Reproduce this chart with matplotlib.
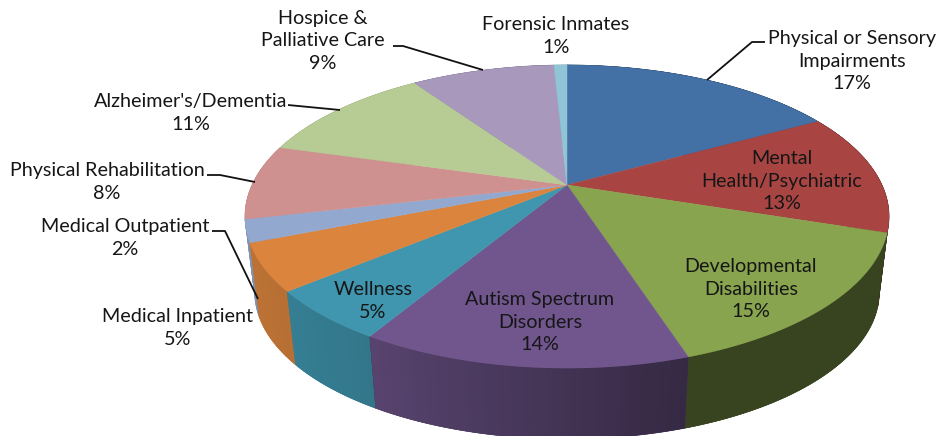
import numpy as np
import matplotlib
matplotlib.use("Agg")
import matplotlib.pyplot as plt
from matplotlib.colors import to_rgb

categories = ["Physical or Sensory\nImpairments", "Mental\nHealth/Psychiatric", "Developmental\nDisabilities",
              "Autism Spectrum\nDisorders", "Wellness", "Medical Inpatient", "Medical Outpatient",
              "Physical Rehabilitation", "Alzheimer's/Dementia", "Hospice &\nPalliative Care", "Forensic Inmates"]
shown_percent = [17, 13, 15, 14, 5, 5, 2, 8, 11, 9, 1]
slice_values = [17.0, 13.0, 15.0, 13.6, 5.4, 5.0, 2.4, 8.0, 11.0, 8.8, 0.8]
colors = ["#4471A5", "#A84543", "#88A44E", "#70568D", "#4096AF", "#DA843D",
          "#92A8CF", "#CF9190", "#B7CB94", "#A898BC", "#90C5D8"]

label_xy = [(852, 61), (782, 181), (751, 289), (540, 322), (373, 301), (178, 328),
            (125, 238), (107, 182), (191, 113), (323, 41), (556, 36)]
leaders = {
    0: [(765, 42), (752, 42), (707, 80)],
    6: [(212, 231), (225, 231), (258, 299)],
    7: [(207, 175), (220, 175), (255, 182)],
    8: [(288, 105), (340, 110)],
    9: [(393, 46), (403, 46), (483, 70)],
}

CX, CY, A, B, K = 567.0, 185.0, 145.0, 315.0, 0.208
SHIFT, SCALE = 76.5, 0.97


def top(theta):
    X, Y = np.sin(theta), np.cos(theta)
    w = 1 + K * Y
    return CX + B * X / w, CY - A * Y / w


def bottom(theta):
    x, y = top(theta)
    return CX + SCALE * (x - CX), CY + SCALE * (y - CY) + SHIFT


def shade(theta):
    return np.interp(np.sin(theta), [-1, -0.55, 0.305, 0.312, 1], [0.88, 0.8, 0.48, 0.41, 0.41])


fig = plt.figure(figsize=(9.37, 4.36), dpi=100)
ax = fig.add_axes([0, 0, 1, 1])
ax.set_xlim(0, 937)
ax.set_ylim(436, 0)
ax.axis("off")

edges = 2 * np.pi * np.concatenate([[0], np.cumsum(slice_values)]) / np.sum(slice_values)

# side wall: each slice from back to front, each step overlapping the next to avoid seams
order = sorted(range(len(colors)), key=lambda i: -np.cos((edges[i] + edges[i + 1]) / 2))
for i in order:
    rgb = np.array(to_rgb(colors[i]))
    n = max(2, int((edges[i + 1] - edges[i]) / 0.015))
    t = np.linspace(edges[i], edges[i + 1], n + 1)
    x1, y1 = top(t)
    x2, y2 = bottom(t[::-1])
    ax.fill(np.r_[x1, x2], np.r_[y1, y2], color=rgb * shade(t[n // 2]), lw=0.4, zorder=1)
    seq = list(range(n))
    if np.sin(t[n // 2]) < 0:
        seq = seq[::-1]
        steps = [(t[max(k - 1, 0)], t[k + 1]) for k in seq]
    else:
        steps = [(t[k], t[min(k + 2, n)]) for k in seq]
    for a, b in steps:
        tt = np.array([a, b])
        x1, y1 = top(tt)
        x2, y2 = bottom(tt[::-1])
        ax.fill(np.r_[x1, x2], np.r_[y1, y2], color=rgb * shade((a + b) / 2), lw=0, zorder=1)

# top surface
for i, col in enumerate(colors):
    t = np.linspace(edges[i], edges[i + 1], 90)
    x, y = top(t)
    ax.fill(np.r_[CX, x], np.r_[CY, y], color=col, lw=0.3, zorder=2)

for pts in leaders.values():
    xs, ys = zip(*pts)
    ax.plot(xs, ys, color="#111111", lw=1.3, zorder=3, solid_capstyle="butt")

for name, pct, (x, y) in zip(categories, shown_percent, label_xy):
    ax.text(x, y, f"{name}\n{pct}%", ha="center", va="center", family="Lato", fontsize=14.2,
            color="#161616", linespacing=1.38, zorder=4)

fig.savefig("out.png", dpi=100)
